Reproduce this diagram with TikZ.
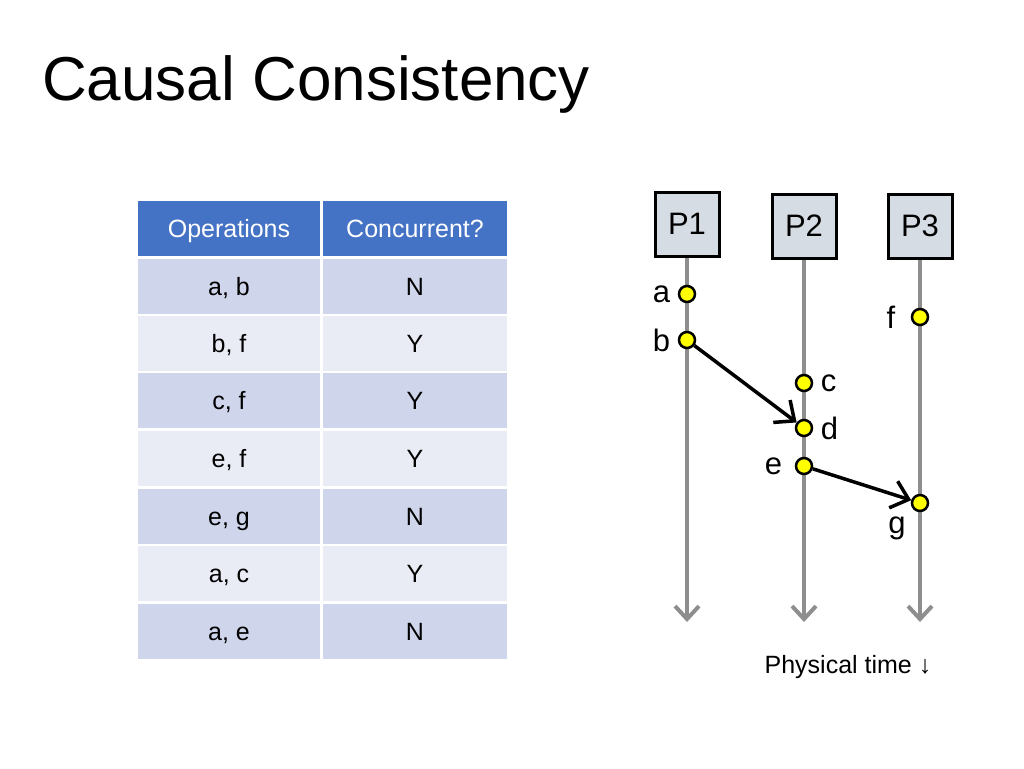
\documentclass[tikz,border=0pt]{standalone}
\usepackage{fontspec}
\setmainfont{Liberation Sans}
\usetikzlibrary{arrows.meta,positioning}
\definecolor{hdrblue}{HTML}{4472C4}
\definecolor{rowdark}{HTML}{CFD5EA}
\definecolor{rowlight}{HTML}{E9EBF5}
\definecolor{procfill}{HTML}{D6DCE4}
\definecolor{linegray}{HTML}{8E8E8E}
\definecolor{evyellow}{HTML}{FFFF00}
\tikzset{
  cell/.style={minimum height=55pt,inner sep=0pt,text height=20pt,text depth=1pt,font=\fontsize{25}{30}\selectfont},
  hdr/.style={cell,fill=hdrblue,text=white},
  celldark/.style={cell,fill=rowdark},
  celllight/.style={cell,fill=rowlight},
  proc/.style={draw=black,line width=3pt,fill=procfill,minimum size=64pt,inner sep=0pt,font=\fontsize{31}{36}\selectfont},
  event/.style={circle,draw=black,line width=2.5pt,fill=evyellow,minimum size=16pt,inner sep=0pt},
  every label/.append style={font=\fontsize{31}{36}\selectfont},
  timeline/.style={draw=linegray,line width=4pt,-{Straight Barb[length=13pt,width=24pt,line width=4pt]}},
  msg/.style={draw=black,line width=3.5pt,-{Straight Barb[length=16pt,width=28pt,line width=3.5pt]}}
}
\begin{document}
\begin{tikzpicture}[x=1pt,y=-1pt]
\useasboundingbox (0,0) rectangle (1024,768);
% \draw[help lines] (0,0) grid (1024,768);
\node (title) [anchor=base west,inner sep=0pt,font=\fontsize{62}{70}\selectfont] at (42,100) {Causal Consistency};
%
\node (h1) [hdr,minimum width=182pt] at (229,228) {Operations};
\node (h2) [hdr,minimum width=184pt] at (415,228) {Concurrent?};
\node (r1a) [celldark,minimum width=182pt] at (229,286) {a, b};
\node (r1b) [celldark,minimum width=184pt] at (415,286) {N};
\node (r2a) [celllight,minimum width=182pt] at (229,343) {b, f};
\node (r2b) [celllight,minimum width=184pt] at (415,343) {Y};
\node (r3a) [celldark,minimum width=182pt] at (229,400) {c, f};
\node (r3b) [celldark,minimum width=184pt] at (415,400) {Y};
\node (r4a) [celllight,minimum width=182pt] at (229,458) {e, f};
\node (r4b) [celllight,minimum width=184pt] at (415,458) {Y};
\node (r5a) [celldark,minimum width=182pt] at (229,516) {e, g};
\node (r5b) [celldark,minimum width=184pt] at (415,516) {N};
\node (r6a) [celllight,minimum width=182pt] at (229,573) {a, c};
\node (r6b) [celllight,minimum width=184pt] at (415,573) {Y};
\node (r7a) [celldark,minimum width=182pt] at (229,631) {a, e};
\node (r7b) [celldark,minimum width=184pt] at (415,631) {N};
%
\node (p1) [proc] at (687,224) {P1};
\node (p2) [proc] at (804,226) {P2};
\node (p3) [proc] at (920,226) {P3};
\coordinate (t1) at (687,622);
\coordinate (t2) at (804,622);
\coordinate (t3) at (920,622);
\path[timeline] (p1) -- (t1);
\path[timeline] (p2) -- (t2);
\path[timeline] (p3) -- (t3);
%
\node (a) [event,label={[label distance=4pt]left:a}] at (687,294) {};
\node (b) [event,label={[label distance=4pt]left:b}] at (687,340) {};
\node (f) [event,label={[label distance=12pt]left:f}] at (920,317) {};
\node (c) [event,label={[label distance=4pt]right:c}] at (804,383) {};
\node (d) [event,label={[label distance=4pt]right:d}] at (804,428) {};
\node (e) [event,label={[label distance=9pt]left:e}] at (804,466) {};
\node (g) [event,label={[label distance=6pt]below left:g}] at (920,503) {};
%
\path[msg] (b) -- (d);
\path[msg] (e) -- (g);
%
\node (time) [font=\fontsize{25}{30}\selectfont] at (848,667) {Physical time ↓};
\end{tikzpicture}
\end{document}
